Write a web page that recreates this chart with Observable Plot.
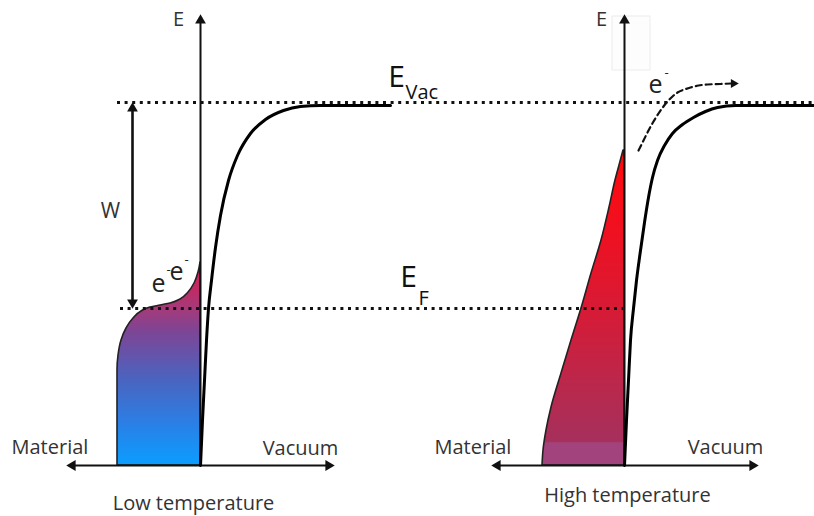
<!DOCTYPE html>
<html><head><meta charset="utf-8">
<script src="https://cdn.jsdelivr.net/npm/d3@7"></script>
<script src="https://cdn.jsdelivr.net/npm/@observablehq/plot@0.6"></script>
<style>body{margin:0;background:#fff;}</style>
</head><body><div id="chart"></div>
<script>
// ---- diagram data (diagram units = pixels of an 814x516 canvas, y downward) ----
const panelNames = ["Low temperature", "High temperature"];
const panelAxisX = [200, 624];          // position of the E axis in each panel
const panelTitleX = [193, 627];
const panelTitleY = [503, 495];
const baseY = 465;                       // horizontal axis level
const axisTopY = 15;                     // E axis tip
const hAxisLeft = [67, 492];
const hAxisRight = [333, 757];

const levelNames = ["E_Vac", "E_F"];
const levelY = [102, 308];
const levelX1 = [117, 120];
const levelX2 = [814, 623];

// Low-temperature electron distribution (left boundary), right edge = E axis
const lowFillY = [465, 400, 370, 355, 340, 328, 318, 311, 307, 305, 303, 299, 292, 283, 272, 262];
const lowFillX = [117, 117, 117, 118, 121, 126, 133, 141, 150, 160, 170, 180, 188, 194, 198, 200];
// High-temperature electron distribution
const highFillY = [465, 450, 430, 407, 373, 340, 308, 273, 240, 207, 180, 165, 150];
const highFillX = [542, 543, 546, 551, 561, 571, 581, 591, 601, 609, 615, 619, 623];

// Surface barrier curves
const barrierLowX = [200, 202, 204, 206, 208, 211, 215, 220, 228, 237, 250, 265, 283, 300, 320, 390];
const barrierLowY = [465, 420, 380, 340, 308, 280, 247, 215, 180, 155, 133, 119, 110, 106, 105, 105];
const barrierHighX = [624, 626, 628, 630, 633, 636, 640, 644, 648, 652, 657, 664, 672, 682, 693, 705, 717, 735, 814];
const barrierHighY = [465, 420, 380, 340, 308, 280, 250, 222, 197, 177, 160, 145, 133, 124, 117, 111, 107, 105, 105];

// Emitted electron path (dashed)
const emitX = [638, 643, 648, 653, 658, 663, 667, 672, 677, 684, 690, 698, 707, 720, 731];
const emitY = [150, 140, 130, 121, 113, 106, 101, 96, 92, 89, 87, 85, 84, 83.5, 83];

// Work function arrow
const wArrowX = 132;
const wArrowY = [102, 308];

// ---- build tables ----
const zipXY = (xs, ys) => xs.map((x, i) => ({x, y: ys[i]}));
const lowFill = zipXY(lowFillX, lowFillY);
const highFill = zipXY(highFillX, highFillY);
const barrierLow = zipXY(barrierLowX, barrierLowY);
const barrierHigh = zipXY(barrierHighX, barrierHighY);
const emit = zipXY(emitX, emitY);
const levels = levelNames.map((n, i) => ({n, y: levelY[i], x1: levelX1[i], x2: levelX2[i]}));
const hAxes = hAxisLeft.map((l, i) => ({x1: l + 4, x2: hAxisRight[i] - 4, y: baseY}));

const heads = [
  ...panelAxisX.map(x => ({x, y: axisTopY + 5, r: 0})),
  ...hAxisLeft.map(x => ({x: x + 5, y: baseY, r: -90})),
  ...hAxisRight.map(x => ({x: x - 5, y: baseY, r: 90})),
  {x: wArrowX, y: wArrowY[0] + 6, r: 0},
  {x: wArrowX, y: wArrowY[1] - 6, r: 180}
];
const smallHeads = [{x: 733, y: 83, r: 90}];

const font = "'Open Sans', sans-serif";
const axisLetters = [{t: "E", x: 178, y: 19}, {t: "E", x: 601, y: 19}];
const materialLabels = [{t: "Material", x: 11, y: 447}, {t: "Material", x: 434, y: 447}];
const vacuumLabels = [{t: "Vacuum", x: 300, y: 448}, {t: "Vacuum", x: 725, y: 447}];
const wLabel = [{t: "W", x: 110, y: 211}];
const titles = panelNames.map((t, i) => ({t, x: panelTitleX[i], y: panelTitleY[i]}));
const bigE = [{t: "E", x: 396, y: 77}, {t: "E", x: 408, y: 277}];
const subs = [{t: "Vac", x: 405, y: 92}, {t: "F", x: 418, y: 298}];
const electrons = [{x: 158, y: 283}, {x: 176, y: 271}, {x: 655, y: 84}];
const minus = [{x: 168, y: 269}, {x: 186, y: 259}, {x: 666, y: 72}];

const plot = Plot.plot({
  width: 814, height: 516,
  margin: 0,
  x: {domain: [0, 814], range: [0, 814], axis: null},
  y: {domain: [0, 516], range: [0, 516], axis: null},
  style: {background: "#fff"},
  marks: [
    Plot.rect([{x1: 612, x2: 650, y1: 16, y2: 70}], {x1: "x1", x2: "x2", y1: "y1", y2: "y2", fill: "#fdfdfd", stroke: "#ececec"}),
    Plot.areaX(lowFill, {y: "y", x1: "x", x2: panelAxisX[0], curve: "monotone-y", fill: "url(#gLow)", stroke: "#222", strokeWidth: 1.6}),
    Plot.areaX(highFill, {y: "y", x1: "x", x2: panelAxisX[1], curve: "monotone-y", fill: "url(#gHigh)", stroke: "#222", strokeWidth: 1.6}),
    Plot.ruleY(levels, {y: "y", x1: "x1", x2: "x2", stroke: "#111", strokeWidth: 3, strokeDasharray: "3,4.6"}),
    Plot.ruleX(panelAxisX, {x: d => d, y1: baseY, y2: axisTopY + 6, stroke: "#111", strokeWidth: 2}),
    Plot.ruleY(hAxes, {y: "y", x1: "x1", x2: "x2", stroke: "#111", strokeWidth: 2}),
    Plot.ruleX([wArrowX], {y1: wArrowY[0] + 6, y2: wArrowY[1] - 6, stroke: "#111", strokeWidth: 2.6}),
    Plot.line(barrierLow, {x: "x", y: "y", curve: "monotone-x", stroke: "#000", strokeWidth: 3}),
    Plot.line(barrierHigh, {x: "x", y: "y", curve: "monotone-x", stroke: "#000", strokeWidth: 3}),
    Plot.line(emit, {x: "x", y: "y", curve: "monotone-x", stroke: "#111", strokeWidth: 2.2, strokeDasharray: "6,4"}),
    Plot.dot(heads, {x: "x", y: "y", rotate: "r", symbol: "triangle", r: 4, fill: "#111", stroke: "none"}),
    Plot.dot(smallHeads, {x: "x", y: "y", rotate: "r", symbol: "triangle", r: 3.4, fill: "#111", stroke: "none"}),
    Plot.text(axisLetters, {x: "x", y: "y", text: "t", fontSize: 20, fontFamily: font, fill: "#333"}),
    Plot.text(materialLabels, {x: "x", y: "y", text: "t", textAnchor: "start", fontSize: 20, fontFamily: font, fill: "#333"}),
    Plot.text(vacuumLabels, {x: "x", y: "y", text: "t", fontSize: 20, fontFamily: font, fill: "#333"}),
    Plot.text(wLabel, {x: "x", y: "y", text: "t", fontSize: 21, fontFamily: font, fill: "#333"}),
    Plot.text(titles, {x: "x", y: "y", text: "t", fontSize: 20, fontFamily: font, fill: "#333"}),
    Plot.text(bigE, {x: "x", y: "y", text: "t", fontSize: 30, fontFamily: font, fill: "#111"}),
    Plot.text(subs, {x: "x", y: "y", text: "t", textAnchor: "start", fontSize: 20, fontFamily: font, fill: "#111"}),
    Plot.text(electrons, {x: "x", y: "y", text: () => "e", fontSize: 25, fontFamily: font, fill: "#222"}),
    Plot.text(minus, {x: "x", y: "y", text: () => "-", fontSize: 13, fontFamily: font, fill: "#222"})
  ]
});

// gradient definitions for the filled distributions
const ns = "http://www.w3.org/2000/svg";
const defs = document.createElementNS(ns, "defs");
function grad(id, stops) {
  const g = document.createElementNS(ns, "linearGradient");
  g.setAttribute("id", id);
  g.setAttribute("x1", "0"); g.setAttribute("y1", "1");
  g.setAttribute("x2", "0"); g.setAttribute("y2", "0");
  for (const [o, c] of stops) {
    const s = document.createElementNS(ns, "stop");
    s.setAttribute("offset", o); s.setAttribute("stop-color", c);
    g.appendChild(s);
  }
  defs.appendChild(g);
}
grad("gLow", [[0, "#0a9eff"], [0.2, "#2a80e6"], [0.42, "#4a64c0"], [0.66, "#7d4595"], [0.77, "#a53a7a"], [0.87, "#c02a65"], [1, "#d81e55"]]);
grad("gHigh", [[0, "#a3437e"], [0.07, "#a3437e"], [0.075, "#a5305c"], [0.3, "#c02548"], [0.5, "#d81a35"], [0.75, "#f01020"], [1, "#ff0a0a"]]);
plot.insertBefore(defs, plot.firstChild);
document.getElementById("chart").appendChild(plot);
</script></body></html>
